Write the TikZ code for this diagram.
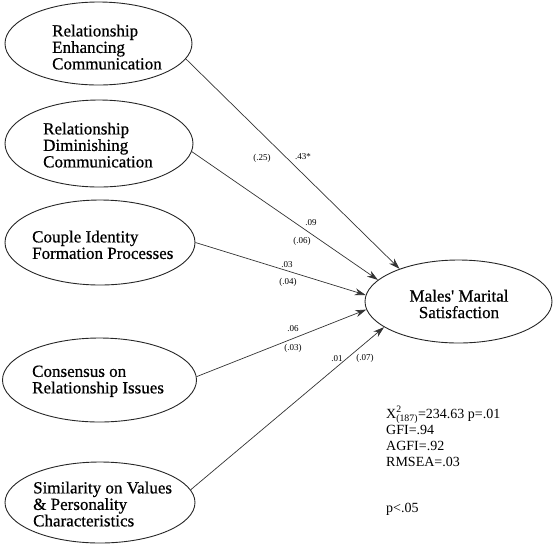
\documentclass[tikz,border=0pt]{standalone}
\usepackage{fontspec}
\usepackage{amsmath}
\setmainfont{Liberation Serif}
\newfontfamily\constructfont[FakeBold=0.6]{Liberation Serif}
\usetikzlibrary{shapes.geometric,arrows.meta}
\begin{document}
\begin{tikzpicture}[x=1pt,y=-1pt,
  construct/.style={ellipse,draw=black!85,line width=0.9pt,inner sep=0pt},
  ctext/.style={anchor=north west,align=left,inner sep=0pt,font=\constructfont\fontsize{17}{16.5}\selectfont},
  outcome/.style={align=center,inner sep=0pt,font=\constructfont\fontsize{17}{16.5}\selectfont},
  effect/.style={draw=black!80,line width=0.7pt,-{Stealth[length=11pt,width=7pt]}},
  coef/.style={inner sep=0pt,font=\fontsize{9}{10}\selectfont},
  fitstat/.style={anchor=base west,inner sep=0pt,font=\fontsize{14}{16}\selectfont}]
\useasboundingbox (0,0) rectangle (554,550);

% predictors
\node[construct,minimum width=187pt,minimum height=83pt] (rec) at (98.5,43.5) {};
\node[ctext] (recT) at (52,24.4) {Relationship\\Enhancing\\Communication};

\node[construct,minimum width=188pt,minimum height=87pt] (rdc) at (99,143.5) {};
\node[ctext] (rdcT) at (43,122.4) {Relationship\\Diminishing\\Communication};

\node[construct,minimum width=190pt,minimum height=85pt] (cif) at (100,242.5) {};
\node[ctext] (cifT) at (32,230.4) {Couple Identity\\Formation Processes};

\node[construct,minimum width=194pt,minimum height=84pt] (cri) at (99.5,380) {};
\node[ctext] (criT) at (32,365.4) {Consensus on\\Relationship Issues};

\node[construct,minimum width=190pt,minimum height=81pt] (svp) at (100,502.5) {};
\node[ctext] (svpT) at (33,481.4) {Similarity on Values\\\& Personality\\Characteristics};

% outcome
\node[construct,minimum width=187pt,minimum height=83pt] (sat) at (458.5,301.5) {};
\node[outcome] (satT) at (459,304) {Males' Marital\\Satisfaction};

% structural paths
\draw[effect] (rec.-10) -- (sat.151);
\draw[effect] (rdc.-5) -- (sat.165.5);
\draw[effect] (cif.0) -- (sat.176);
\draw[effect] (cri.2) -- (sat.185.5);
\draw[effect] (svp.8) -- (sat.199);

% coefficients and standard errors
\node[coef] (b1) at (303,157) {.43*};
\node[coef] (s1) at (262,158) {(.25)};
\node[coef] (b2) at (311,223) {.09};
\node[coef] (s2) at (302,241) {(.06)};
\node[coef] (b3) at (287,265) {.03};
\node[coef] (s3) at (288,282) {(.04)};
\node[coef] (b4) at (293,329) {.06};
\node[coef] (s4) at (293,348) {(.03)};
\node[coef] (b5) at (337,359) {.01};
\node[coef] (s5) at (365,358) {(.07)};

% fit statistics
\node[fitstat] (chi) at (386,418) {X$^{\text{2}}_{\text{(187)}}$=234.63 p=.01};
\node[fitstat] (gfi) at (386,434) {GFI=.94};
\node[fitstat] (agfi) at (386,450) {AGFI=.92};
\node[fitstat] (rmsea) at (386,466) {RMSEA=.03};
\node[fitstat] (sig) at (386,512) {p<.05};
\end{tikzpicture}
\end{document}
